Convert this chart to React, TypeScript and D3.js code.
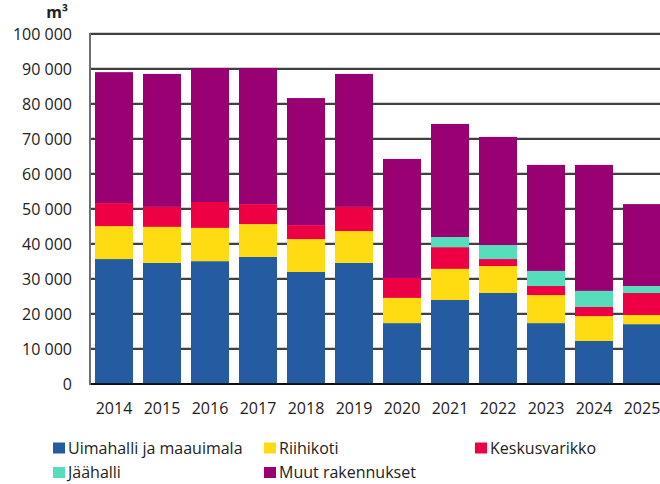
import * as d3 from 'd3';
import React from 'react';

const years = ['2014', '2015', '2016', '2017', '2018', '2019', '2020', '2021', '2022', '2023', '2024', '2025'];

// m3
const uimahalli = [35700, 34600, 35100, 36300, 32000, 34600, 17400, 24000, 26000, 17400, 12300, 17100];
const riihikoti = [9400, 10300, 9500, 9400, 9400, 9100, 7200, 8900, 7700, 8000, 7100, 2600];
const keskusvarikko = [6600, 5700, 7400, 5700, 4000, 6900, 5700, 6200, 2000, 2600, 2600, 6300];
const jaahalli = [0, 0, 0, 0, 0, 0, 0, 2900, 4000, 4300, 4600, 2000];
const muut = [37400, 38000, 38300, 38900, 36300, 38000, 34000, 32300, 30900, 30300, 36000, 23400];

const seriesNames = ['Uimahalli ja maauimala', 'Riihikoti', 'Keskusvarikko', 'Jäähalli', 'Muut rakennukset'];
const seriesColors = ['#245BA1', '#FFDC12', '#EE0044', '#55DDBC', '#990072'];
const yTicks = [0, 10000, 20000, 30000, 40000, 50000, 60000, 70000, 80000, 90000, 100000];

const W = 660, H = 484;
const left = 90, top = 34, bottom = 384;

const fmt = (v: number) => d3.format(',')(v).replace(/,/g, '\u00a0');

export default function App() {
  const values = [uimahalli, riihikoti, keskusvarikko, jaahalli, muut];
  const rows = years.map((y, i) => {
    const r: any = { year: y };
    seriesNames.forEach((s, k) => { r[s] = values[k][i]; });
    return r;
  });
  const stacked = d3.stack().keys(seriesNames)(rows);

  const x = d3.scaleBand().domain(years).range([left, left + 576])
    .paddingInner(10 / 48).paddingOuter(5 / 48);
  const y = d3.scaleLinear().domain([0, 100000]).range([bottom, top]);

  const legendPos = [
    [53, 448], [264, 448], [475, 448],
    [53, 472.5], [264, 472.5],
  ];

  return (
    <svg width={W} height={H} style={{ position: 'absolute', left: 0, top: 0 }}
      fontFamily="'Open Sans', sans-serif">
      <rect width={W} height={H} fill="#fff" />
      {yTicks.map(t => (
        <g key={t}>
          {t > 0 && <line x1={left} x2={W} y1={y(t) - 1.5} y2={y(t) - 1.5} stroke="#d0d0d0" strokeWidth={1} />}
          <line x1={left} x2={W} y1={y(t)} y2={y(t)} stroke="#000" strokeWidth={t === 0 ? 1.5 : 1.3} />
          <text x={72} y={y(t)} dy="0.35em" textAnchor="end" fontSize={16} fill="#222">{fmt(t)}</text>
        </g>
      ))}
      <text x={68} y={18} textAnchor="end" fontSize={16} fontWeight="bold" fill="#222">m³</text>
      {stacked.map((layer, k) => (
        <g key={layer.key} fill={seriesColors[k]}>
          {layer.map((d, i) => (d[1] - d[0] > 0 ? (
            <rect key={i} x={x(years[i])} width={x.bandwidth()} y={y(d[1])} height={y(d[0]) - y(d[1])} />
          ) : null))}
        </g>
      ))}
      <line x1={left} x2={W} y1={bottom} y2={bottom} stroke="#000" strokeWidth={1.5} />
      <line x1={left} x2={left} y1={top - 1} y2={bottom + 1} stroke="#707070" strokeWidth={2} />
      {years.map(yr => (
        <text key={yr} x={(x(yr) as number) + x.bandwidth() / 2} y={408} dy="0.35em" textAnchor="middle" fontSize={16} fill="#222">{yr}</text>
      ))}
      {seriesNames.map((s, k) => (
        <g key={s} transform={`translate(${legendPos[k][0]},${legendPos[k][1]})`}>
          <rect x={0} y={-5.5} width={12} height={11} fill={seriesColors[k]} />
          <text x={15} y={0} dy="0.35em" fontSize={16} fill="#222">{s}</text>
        </g>
      ))}
    </svg>
  );
}
